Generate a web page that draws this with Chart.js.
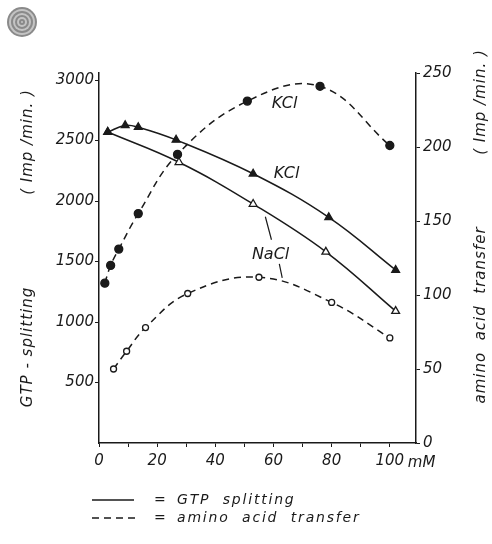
<!DOCTYPE html>
<html>
<head>
<meta charset="utf-8">
<script src="https://cdn.jsdelivr.net/npm/chart.js@4"></script>
<style>
  html, body { margin: 0; padding: 0; background: #fff; }
  #wrap { width: 492px; height: 544px; position: relative; }
</style>
</head>
<body>
<div id="wrap"><canvas id="chart"></canvas></div>
<script>
// KCl / NaCl concentration (mM) and measured values
const concKclGtp = [3, 9, 13.5, 26.5, 53, 79, 102];
const kclGtp = [2570, 2625, 2610, 2505, 2225, 1865, 1430];
const concNaclGtp = [3, 27.5, 53, 78, 102];
const naclGtp = [2570, 2320, 1975, 1580, 1090];

const concKclTransfer = [2, 4, 6.8, 13.5, 27, 51, 76, 100];
const kclTransfer = [108, 120, 131, 155, 195, 231, 241, 201];
const concNaclTransfer = [5, 9.5, 16, 30.5, 55, 80, 100];
const naclTransfer = [50, 62, 78, 101, 112, 95, 71];

const xTicks = [0, 10, 20, 30, 40, 50, 60, 70, 80, 90, 100];
const leftTicks = [500, 1000, 1500, 2000, 2500, 3000];
const rightTicks = [0, 50, 100, 150, 200, 250];

const ink = '#1a1a1a';
const tickFont = { family: 'DejaVu Sans', size: 15, style: 'italic' };

const pts = (xs, ys) => xs.map((x, i) => ({ x: x, y: ys[i] }));

function lineSet(label, xs, ys, axis, style, filled, dashed) {
  return {
    label: label,
    data: pts(xs, ys),
    yAxisID: axis,
    borderColor: ink,
    borderWidth: 1.5,
    borderDash: dashed ? [7, 5] : [],
    tension: 0.4,
    pointStyle: style,
    pointRadius: style === 'triangle' ? 4.5 : (filled ? 4 : 3),
    pointBorderWidth: 1.3,
    pointBorderColor: ink,
    pointBackgroundColor: filled ? ink : '#fff'
  };
}

const extras = {
  id: 'extras',
  afterDraw(chart) {
    const ctx = chart.ctx;
    const x = chart.scales.x, y = chart.scales.y, y2 = chart.scales.y2;
    ctx.save();
    ctx.fillStyle = ink;
    ctx.strokeStyle = ink;

    // scanned logo mark top-left
    for (let r = 15; r > 0; r -= 2) {
      ctx.beginPath();
      ctx.arc(22, 22, r, 0, Math.PI * 2);
      ctx.fillStyle = (r % 4 === 3) ? '#8a8a8a' : '#c4c4c4';
      ctx.fill();
    }
    ctx.fillStyle = ink;

    // axis titles, read bottom to top
    ctx.font = 'italic 15px "DejaVu Sans"';
    ctx.letterSpacing = '1px';
    ctx.textAlign = 'center';
    ctx.textBaseline = 'middle';
    const vtext = (t, cx, cy) => {
      ctx.save();
      ctx.translate(cx, cy);
      ctx.rotate(-Math.PI / 2);
      ctx.fillText(t, 0, 0);
      ctx.restore();
    };
    vtext('GTP - splitting', 28, 347);
    vtext('( Imp /min. )', 28, 142);
    vtext('amino  acid  transfer', 481, 315);
    vtext('( Imp /min. )', 481, 102);

    // "mM" after the last tick
    ctx.letterSpacing = '0px';
    ctx.textAlign = 'left';
    ctx.font = 'italic 15px "DejaVu Sans"';
    ctx.fillText('mM', x.getPixelForValue(100) + 18, 463);

    // curve labels
    ctx.textAlign = 'center';
    ctx.font = 'italic 16px "DejaVu Sans"';
    ctx.fillText('KCl', x.getPixelForValue(63.8), y2.getPixelForValue(229));
    ctx.fillText('KCl', x.getPixelForValue(64.5), y.getPixelForValue(2225));
    ctx.fillText('NaCl', x.getPixelForValue(59), y.getPixelForValue(1554));
    ctx.lineWidth = 1.2;
    ctx.beginPath();
    ctx.moveTo(x.getPixelForValue(57.2), y.getPixelForValue(1870));
    ctx.lineTo(x.getPixelForValue(59.3), y.getPixelForValue(1680));
    ctx.moveTo(x.getPixelForValue(62), y.getPixelForValue(1480));
    ctx.lineTo(x.getPixelForValue(63), y.getPixelForValue(1365));
    ctx.stroke();

    // legend
    ctx.lineWidth = 1.5;
    ctx.beginPath();
    ctx.moveTo(92, 500);
    ctx.lineTo(134, 500);
    ctx.stroke();
    ctx.setLineDash([7, 5]);
    ctx.beginPath();
    ctx.moveTo(92, 518);
    ctx.lineTo(136, 518);
    ctx.stroke();
    ctx.setLineDash([]);
    ctx.font = 'italic 14px "DejaVu Sans"';
    ctx.letterSpacing = '1.8px';
    ctx.textAlign = 'left';
    ctx.fillText('=', 154, 500);
    ctx.fillText('GTP  splitting', 177, 500);
    ctx.fillText('=', 154, 518);
    ctx.fillText('amino  acid  transfer', 177, 518);
    ctx.restore();
  }
};

new Chart(document.getElementById('chart').getContext('2d'), {
  type: 'line',
  data: {
    datasets: [
      lineSet('KCl GTP splitting', concKclGtp, kclGtp, 'y', 'triangle', true, false),
      lineSet('NaCl GTP splitting', concNaclGtp, naclGtp, 'y', 'triangle', false, false),
      lineSet('KCl amino acid transfer', concKclTransfer, kclTransfer, 'y2', 'circle', true, true),
      lineSet('NaCl amino acid transfer', concNaclTransfer, naclTransfer, 'y2', 'circle', false, true)
    ]
  },
  options: {
    responsive: true,
    maintainAspectRatio: false,
    animation: false,
    layout: { padding: { top: 73, left: 0, right: 0, bottom: 0 } },
    plugins: { legend: { display: false }, tooltip: { enabled: false } },
    scales: {
      x: {
        type: 'linear',
        min: 0,
        max: 109,
        afterBuildTicks: ax => { ax.ticks = xTicks.map(v => ({ value: v })); },
        afterFit: ax => { ax.height = 101; },
        border: { color: ink, width: 1.5 },
        grid: { drawOnChartArea: false, color: ink, tickLength: 4 },
        ticks: {
          color: ink,
          font: tickFont,
          padding: 5,
          maxRotation: 0,
          autoSkip: false,
          callback: v => (v % 20 === 0 ? String(v) : '')
        }
      },
      y: {
        position: 'left',
        min: 0,
        max: 3058,
        afterBuildTicks: ax => { ax.ticks = leftTicks.map(v => ({ value: v })); },
        afterFit: ax => { ax.width = 99; },
        border: { color: ink, width: 1.5 },
        grid: { drawOnChartArea: false, color: ink, tickLength: 4 },
        ticks: { color: ink, font: tickFont, padding: 1, callback: v => String(v) }
      },
      y2: {
        position: 'right',
        min: 0,
        max: 250,
        afterBuildTicks: ax => { ax.ticks = rightTicks.map(v => ({ value: v })); },
        afterFit: ax => { ax.width = 76; },
        border: { color: ink, width: 1.5 },
        grid: { drawOnChartArea: false, color: ink, tickLength: 4 },
        ticks: { color: ink, font: tickFont, padding: 3, callback: v => String(v) }
      }
    }
  },
  plugins: [extras]
});
</script>
</body>
</html>
